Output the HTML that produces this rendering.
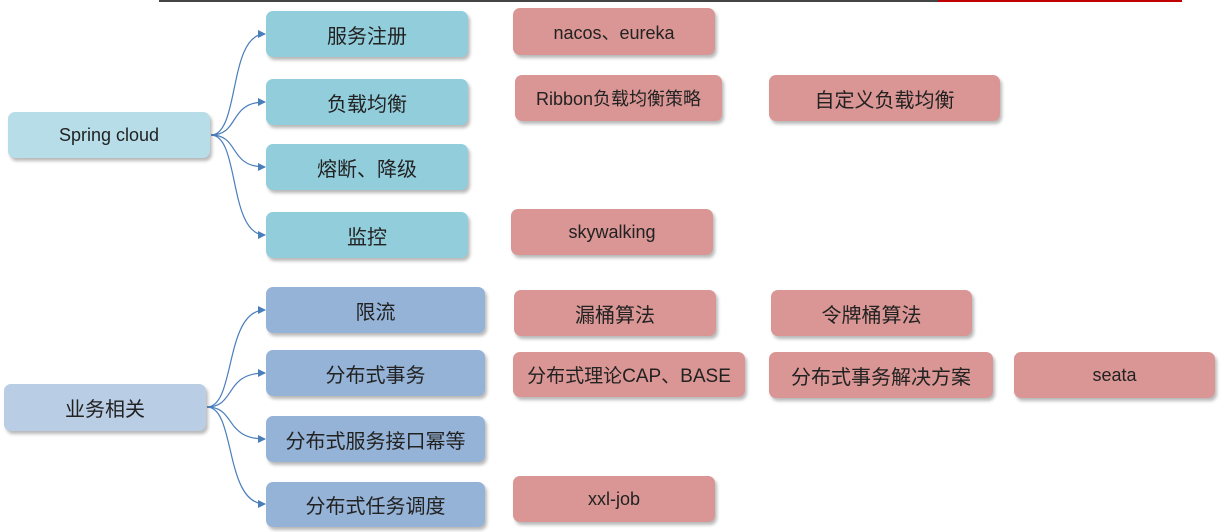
<!DOCTYPE html>
<html><head><meta charset="utf-8"><style>
body{margin:0;width:1227px;height:532px;background:#fff;position:relative;overflow:hidden;font-family:"Liberation Sans","Noto Sans CJK SC",sans-serif;}
.b{position:absolute;border-radius:7px;display:flex;align-items:center;justify-content:center;color:#222;font-size:20px;box-shadow:2px 3px 3px rgba(0,0,0,0.28);white-space:nowrap;}
.r{background:#d99694;font-size:18px}
.c1{background:#b7dde8;font-size:18px}
.c2{background:#92cddc}
.d1{background:#b9cde5}
.d2{background:#95b3d7}
</style></head><body>
<div style="position:absolute;left:159px;top:0;width:779px;height:2px;background:#444"></div>
<div style="position:absolute;left:938px;top:0;width:244px;height:2px;background:#c00000"></div>
<svg width="1227" height="532" style="position:absolute;left:0;top:0">
<defs><marker id="a" markerWidth="8" markerHeight="8" refX="7" refY="4" orient="auto" markerUnits="userSpaceOnUse"><path d="M0,0L8,4L0,8z" fill="#4a7ebb"/></marker></defs>
<g fill="none" stroke="#4a7ebb" stroke-width="1.2" marker-end="url(#a)">
<path d="M211,135 C240,135 228,34 265,34"/>
<path d="M211,135 C240,135 228,102 265,102"/>
<path d="M211,135 C240,135 228,167 265,167"/>
<path d="M211,135 C240,135 228,235 265,235"/>
<path d="M207,407 C236,407 224,310 265,310"/>
<path d="M207,407 C236,407 224,373 265,373"/>
<path d="M207,407 C236,407 224,439 265,439"/>
<path d="M207,407 C236,407 224,504 265,504"/>
</g></svg>
<div class="b c1" style="left:8px;top:112px;width:202px;height:46px">Spring cloud</div>
<div class="b c2" style="left:266px;top:11px;width:202px;height:46px">服务注册</div>
<div class="b c2" style="left:266px;top:79px;width:202px;height:46px">负载均衡</div>
<div class="b c2" style="left:266px;top:144px;width:202px;height:46px">熔断、降级</div>
<div class="b c2" style="left:266px;top:212px;width:202px;height:46px">监控</div>
<div class="b r" style="left:513px;top:8px;width:202px;height:47px">nacos、eureka</div>
<div class="b r" style="left:515px;top:75px;width:207px;height:46px">Ribbon负载均衡策略</div>
<div class="b r" style="left:769px;top:75px;width:231px;height:46px;font-size:20px">自定义负载均衡</div>
<div class="b r" style="left:511px;top:209px;width:202px;height:46px">skywalking</div>
<div class="b d1" style="left:4px;top:384px;width:202px;height:47px">业务相关</div>
<div class="b d2" style="left:266px;top:287px;width:219px;height:46px">限流</div>
<div class="b d2" style="left:266px;top:350px;width:219px;height:46px">分布式事务</div>
<div class="b d2" style="left:266px;top:416px;width:219px;height:46px">分布式服务接口幂等</div>
<div class="b d2" style="left:266px;top:482px;width:219px;height:45px">分布式任务调度</div>
<div class="b r" style="left:514px;top:290px;width:202px;height:46px;font-size:20px">漏桶算法</div>
<div class="b r" style="left:771px;top:290px;width:201px;height:46px;font-size:20px">令牌桶算法</div>
<div class="b r" style="left:513px;top:352px;width:232px;height:45px;font-size:19px">分布式理论CAP、BASE</div>
<div class="b r" style="left:769px;top:352px;width:224px;height:46px;font-size:20px">分布式事务解决方案</div>
<div class="b r" style="left:1014px;top:352px;width:201px;height:46px">seata</div>
<div class="b r" style="left:513px;top:476px;width:202px;height:46px">xxl-job</div>
</body></html>
